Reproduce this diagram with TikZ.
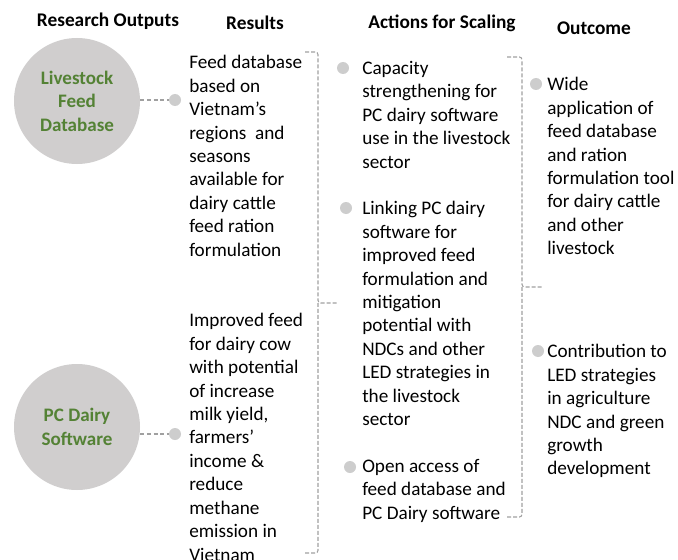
\documentclass[tikz,border=0pt]{standalone}
\usepackage{fontspec}
\setmainfont{Carlito}
\definecolor{circgray}{HTML}{D0CECE}
\definecolor{dotgray}{HTML}{CDCDCD}
\definecolor{leafgreen}{HTML}{548235}
\definecolor{linegray}{HTML}{A0A0A0}
\tikzset{
  head/.style={font=\bfseries\fontsize{14.5}{17}\selectfont},
  output/.style={circle, fill=circgray, minimum size=94.5pt, inner sep=0, align=center,
    text=leafgreen, font=\bfseries\fontsize{14.3}{17.6}\selectfont},
  bullet/.style={circle, fill=dotgray, inner sep=0, minimum size=9pt},
  body/.style={anchor=north west, inner sep=0, align=left, font=\fontsize{14.4}{17.6}\selectfont},
  link/.style={linegray, line width=0.8pt, dash pattern=on 3pt off 2pt},
  bracket/.style={linegray, line width=0.8pt, dash pattern=on 3pt off 1.5pt, rounded corners=2pt},
}
\begin{document}
\begin{tikzpicture}[x=0.75pt,y=0.75pt,yscale=-1,xscale=1]
  \useasboundingbox (0,0) rectangle (678,560);

  \node[head] (hout) at (108,21) {Research Outputs};
  \node[head] (hres) at (255,23) {Results};
  \node[head] (hact) at (442,23) {Actions for Scaling};
  \node[head] (hend) at (594,28) {Outcome};

  \node[output] (lfd) at (77,101) {Livestock\\Feed\\Database};
  \node[output] (pcd) at (77,427) {PC Dairy\\Software};

  \node[bullet] (r1) at (175,100) {};
  \node[bullet] (r2) at (175,434) {};
  \draw[link] (lfd.east |- r1) -- (r1);
  \draw[link] (pcd.east |- r2) -- (r2);

  \node[body] (res1) at (189,55) {Feed database\\based on\\Vietnam’s\\regions~ and\\seasons\\available for\\dairy cattle\\feed ration\\formulation};
  \node[body] (res2) at (189,313) {Improved feed\\for dairy cow\\with potential\\of increase\\milk yield,\\farmers’\\income \&\\reduce\\methane\\emission in\\Vietnam};

  \coordinate (b1top) at (305,52);
  \coordinate (b1mid) at (318,303);
  \coordinate (b1tip) at (338,303);
  \coordinate (b1bot) at (305,553);
  \draw[bracket] (b1top) -| (b1mid) -- (b1tip);
  \draw[bracket] (b1bot) -| (b1mid);

  \node[bullet] (a1) at (343,68) {};
  \node[bullet] (a2) at (346,208) {};
  \node[bullet] (a3) at (350,467) {};
  \node[body] (act1) at (362,61) {Capacity\\strengthening for\\PC dairy software\\use in the livestock\\sector};
  \node[body] (act2) at (362,201) {Linking PC dairy\\software for\\improved feed\\formulation and\\mitigation\\potential with\\NDCs and other\\LED strategies in\\the livestock\\sector};
  \node[body] (act3) at (362,459) {Open access of\\feed database and\\PC Dairy software};

  \coordinate (b2top) at (507,57);
  \coordinate (b2mid) at (522,287);
  \coordinate (b2tip) at (543,287);
  \coordinate (b2bot) at (507,517);
  \draw[bracket] (b2top) -| (b2mid) -- (b2tip);
  \draw[bracket] (b2bot) -| (b2mid);

  \node[bullet] (o1) at (536,84) {};
  \node[bullet] (o2) at (538,351) {};
  \node[body] (out1) at (547,77) {Wide\\application of\\feed database\\and ration\\formulation tool\\for dairy cattle\\and other\\livestock};
  \node[body] (out2) at (547,344) {Contribution to\\LED strategies\\in agriculture\\NDC and green\\growth\\development};
\end{tikzpicture}
\end{document}
